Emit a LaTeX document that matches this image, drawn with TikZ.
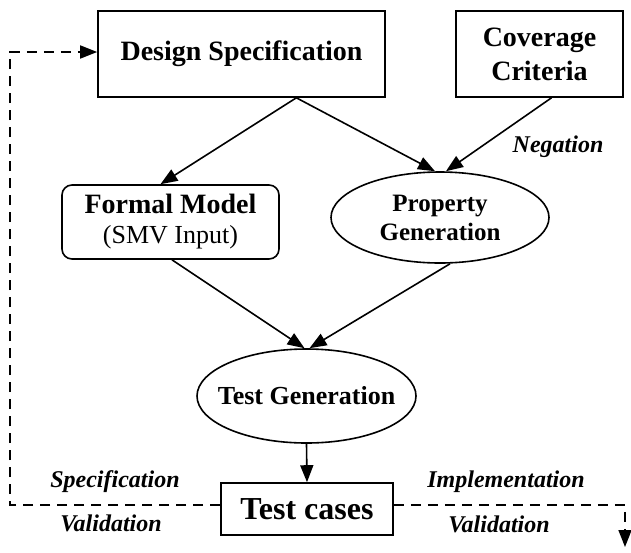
\documentclass[tikz,border=0pt]{standalone}
\usepackage{fontspec}
\setmainfont{Liberation Serif}
\usetikzlibrary{calc}
\usetikzlibrary{shapes}
\usetikzlibrary{arrows.meta}
\tikzset{
  box/.style={draw, rectangle, inner sep=0pt, align=center, font=\bfseries\fontsize{14}{17}\selectfont},
  oval/.style={draw, ellipse, inner sep=0pt, align=center, font=\bfseries\fontsize{12.5}{14.5}\selectfont},
  lab/.style={inner sep=0pt, font=\bfseries\itshape\fontsize{12}{14}\selectfont},
  flow/.style={->},
  loop/.style={dash pattern=on 5pt off 3.5pt}
}
\newcommand{\flowlabel}[4]{\node[lab] (#1) at ( #2 , #3 ) {#4};}

\begin{document}
\begin{tikzpicture}[x=0.5pt, y=-0.5pt, line width=0.8pt, >={Triangle[length=8.5pt,width=6.5pt]}]
  \useasboundingbox (0,0) rectangle (631,552);

  \node[box, minimum width=143.5pt, minimum height=43pt] (spec) at (241.5,54) {Design Specification};
  \node[box, minimum width=83.5pt, minimum height=43pt] (cov) at (539.5,54) {Coverage\\Criteria};
  \node[box, rounded corners=5pt, minimum width=108.5pt, minimum height=37pt,
        font=\bfseries\fontsize{14}{15}\selectfont] (model) at (170.5,222)
        {Formal Model\\{\mdseries\fontsize{13}{15}\selectfont (SMV Input)}};
  \node[oval, minimum width=109pt, minimum height=45.5pt] (prop) at (440,217.5) {Property\\Generation};
  \node[oval, minimum width=109.5pt, minimum height=47pt, font=\bfseries\fontsize{13}{15}\selectfont] (tgen) at (306.5,396)
        {\makebox[0pt]{Test Generation}};
  \node[box, minimum width=86pt, minimum height=26pt, font=\bfseries\fontsize{16}{18}\selectfont] (tcases) at (307,509) {Test cases};

  \coordinate (fork) at ($(spec.south west)!0.69!(spec.south east)$);
  \coordinate (lft) at (10,280);
  \coordinate (rgt) at (625,547);

  % forward flow
  \draw[flow] (fork) -- ($(model.north)+(-10,0)$);
  \draw[flow] (fork) -- ($(prop.north)+(-5,0)$);
  \draw[flow] ($(cov.south)+(12,0)$) -- ($(prop.north)+(6,0)$);
  \draw[flow] ($(model.south)+(1.5,0)$) -- ($(tgen.north)+(-2,0)$);
  \draw[flow] ($(prop.south)+(10,0)$) -- ($(tgen.north)+(3,0)$);
  \draw[flow] (tgen.south) -- (tcases.north);

  % validation loops
  \draw[loop, ->] ($(tcases.west)+(0,-4)$) -| (lft) |- ($(spec.west)+(0,-2)$);
  \draw[loop, ->] ($(tcases.east)+(0,-4)$) -| (rgt);

  \flowlabel{neg}{558}{147}{Negation}
  \flowlabel{specv}{115}{482}{Specification}
  \flowlabel{specw}{111}{523}{Validation}
  \flowlabel{impv}{506}{482}{Implementation}
  \flowlabel{impw}{499}{524}{Validation}
\end{tikzpicture}
\end{document}
